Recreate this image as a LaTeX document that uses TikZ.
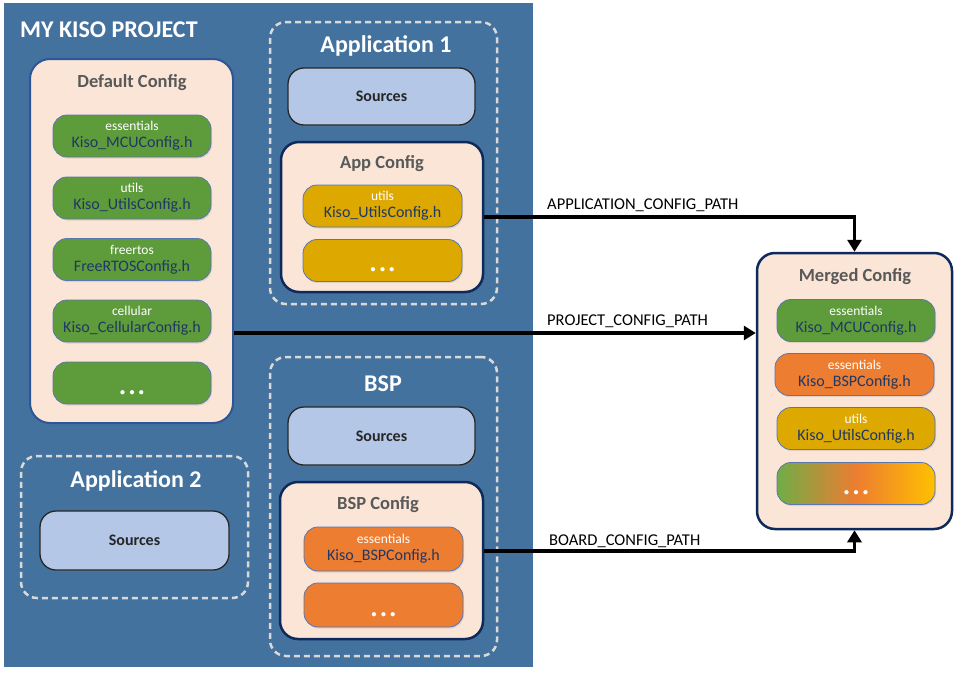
\documentclass[tikz,border=0pt]{standalone}
\usepackage{fontspec}
\setmainfont{Carlito}
\usepackage{xcolor}
\usepackage{tikz}
\usetikzlibrary{arrows.meta,calc,shadows}
\definecolor{bgblue}{HTML}{44729E}
\definecolor{peach}{HTML}{FBE5D6}
\definecolor{frame}{HTML}{2F5597}
\definecolor{navy}{HTML}{0E2A5C}
\definecolor{srcblue}{HTML}{B4C7E7}
\definecolor{green}{HTML}{5E9B3B}
\definecolor{orange}{HTML}{ED7D31}
\definecolor{gold}{HTML}{DDA800}
\definecolor{lgreen}{HTML}{70AD47}
\definecolor{lgold}{HTML}{FFC000}
\definecolor{ink}{HTML}{1F3864}
\definecolor{title}{HTML}{595959}
\definecolor{dash}{HTML}{D9D9D9}
\tikzset{
  group/.style={draw=dash, line width=2.5pt, dash pattern=on 6pt off 4pt, rounded corners=16pt},
  defbox/.style={fill=peach, draw=frame, line width=2pt, rounded corners=20pt},
  cfgbox/.style={fill=peach, draw=navy, line width=2.5pt, rounded corners=18pt},
  srcbox/.style={fill=srcblue, draw=black!85, line width=1.3pt, rounded corners=16pt,
    font=\fontsize{16}{18}\selectfont\bfseries, text=black!85,
    drop shadow={opacity=0.25, shadow xshift=1pt, shadow yshift=-1.5pt}},
  file/.style={draw=frame!80, line width=0.8pt, rounded corners=14pt, align=center,
    minimum height=42pt, inner sep=0pt,
    drop shadow={opacity=0.2, shadow xshift=1pt, shadow yshift=-1.5pt}},
  gfile/.style={file, fill=green, minimum width=158pt},
  yfile/.style={file, fill=gold, minimum width=159pt},
  ofile/.style={file, fill=orange, minimum width=159pt},
  mixfile/.style={file, left color=lgreen, right color=lgold, middle color=orange, minimum width=158pt},
  dots/.style={text=white, font=\fontsize{10}{10}\selectfont\bfseries, inner sep=0pt},
  grouptitle/.style={text=white, font=\fontsize{24}{26}\selectfont\bfseries},
  cfgtitle/.style={text=title, font=\fontsize{18.5}{20}\selectfont\bfseries},
  flow/.style={draw=black, line width=3.5pt, -{Triangle[length=12pt,width=14pt]}},
  pathlbl/.style={text=black, font=\fontsize{16.5}{18}\selectfont, anchor=base west, inner sep=0pt}
}
\newcommand{\cfgfile}[2]{{\fontsize{13.5}{14}\selectfont\color{white}#1}\\[5pt]{\fontsize{16}{17}\selectfont\color{ink}#2}}
\newcommand{\threedots}{\textbullet\hspace{4.5pt}\textbullet\hspace{4.5pt}\textbullet}

\begin{document}
\begin{tikzpicture}[x=1pt, y=-1pt]
  \useasboundingbox[fill=white] (0,0) rectangle (958,672);

  % project area
  \fill[bgblue] (4,3) rectangle (533,667);
  \node[text=white, font=\fontsize{24}{26}\selectfont\bfseries, anchor=west, inner sep=0pt] (proj) at (20,30) {MY KISO PROJECT};

  % default config
  \node[defbox, minimum width=203pt, minimum height=364pt] (defcfg) at (131.5,241) {};
  \node[cfgtitle] (deft) at (132,83) {Default Config};
  \node[gfile] (mcu) at (132,136) {\cfgfile{essentials}{Kiso\_MCUConfig.h}};
  \node[gfile] (utl) at (132,198) {\cfgfile{utils}{Kiso\_UtilsConfig.h}};
  \node[gfile] (rtos) at (132,259.5) {\cfgfile{freertos}{FreeRTOSConfig.h}};
  \node[gfile] (cell) at (132,321) {\cfgfile{cellular}{Kiso\_CellularConfig.h}};
  \node[gfile] (gmore) at (132,383) {};
  \node[dots] (gdots) at ([yshift=-10pt]gmore.center) {\threedots};

  % application 1
  \node[group, minimum width=227pt, minimum height=282pt] (app1) at (383.5,163) {};
  \node[grouptitle] (app1t) at (386,46) {Application 1};
  \node[srcbox, minimum width=187pt, minimum height=57pt] (app1src) at (381.5,96.5) {Sources};
  \node[cfgbox, minimum width=202pt, minimum height=150pt] (appcfg) at (382,217) {};
  \node[cfgtitle] (appt) at (382,164) {App Config};
  \node[yfile] (autl) at (382.5,206) {\cfgfile{utils}{Kiso\_UtilsConfig.h}};
  \node[yfile] (amore) at (382.5,260.5) {};
  \node[dots] (adots) at ([yshift=-10pt]amore.center) {\threedots};

  % bsp
  \node[group, minimum width=227pt, minimum height=299pt] (bsp) at (383.5,506.5) {};
  \node[grouptitle] (bspt) at (383,384) {BSP};
  \node[srcbox, minimum width=187pt, minimum height=58pt] (bspsrc) at (381.5,436) {Sources};
  \node[cfgbox, minimum width=203pt, minimum height=157pt] (bspcfg) at (381.5,560.5) {};
  \node[cfgtitle] (bspct) at (378,505) {BSP Config};
  \node[ofile, minimum height=44pt] (bspf) at (383.5,549) {\cfgfile{essentials}{Kiso\_BSPConfig.h}};
  \node[ofile, minimum height=44pt] (omore) at (383.5,605) {};
  \node[dots] (odots) at ([yshift=-10pt]omore.center) {\threedots};

  % application 2
  \node[group, minimum width=227pt, minimum height=142pt] (app2) at (134.5,527) {};
  \node[grouptitle] (app2t) at (136,481) {Application 2};
  \node[srcbox, minimum width=189pt, minimum height=59pt] (app2src) at (134.5,540.5) {Sources};

  % merged config
  \node[cfgbox, minimum width=195pt, minimum height=276pt] (merged) at (854.5,391) {};
  \node[cfgtitle] (mergedt) at (855,277) {Merged Config};
  \node[gfile] (mmcu) at (856,320.5) {\cfgfile{essentials}{Kiso\_MCUConfig.h}};
  \node[ofile] (mbsp) at (854.5,374.5) {\cfgfile{essentials}{Kiso\_BSPConfig.h}};
  \node[yfile, minimum width=158pt] (mutl) at (856,428.5) {\cfgfile{utils}{Kiso\_UtilsConfig.h}};
  \node[mixfile] (mmore) at (856,483.5) {};
  \node[dots] (mdots) at ([yshift=-10pt]mmore.center) {\threedots};

  % config paths
  \draw[flow] (appcfg.east) -| (merged.north);
  \draw[flow] ([yshift=-92pt]defcfg.east) coordinate (pj) -- (pj -| merged.west);
  \draw[flow] ([yshift=9.5pt]bspcfg.east) -| (merged.south);

  \node[pathlbl] (applbl) at (547,209) {APPLICATION\_CONFIG\_PATH};
  \node[pathlbl] (projlbl) at (547,325) {PROJECT\_CONFIG\_PATH};
  \node[pathlbl] (boardlbl) at (549,545) {BOARD\_CONFIG\_PATH};
\end{tikzpicture}
\end{document}
